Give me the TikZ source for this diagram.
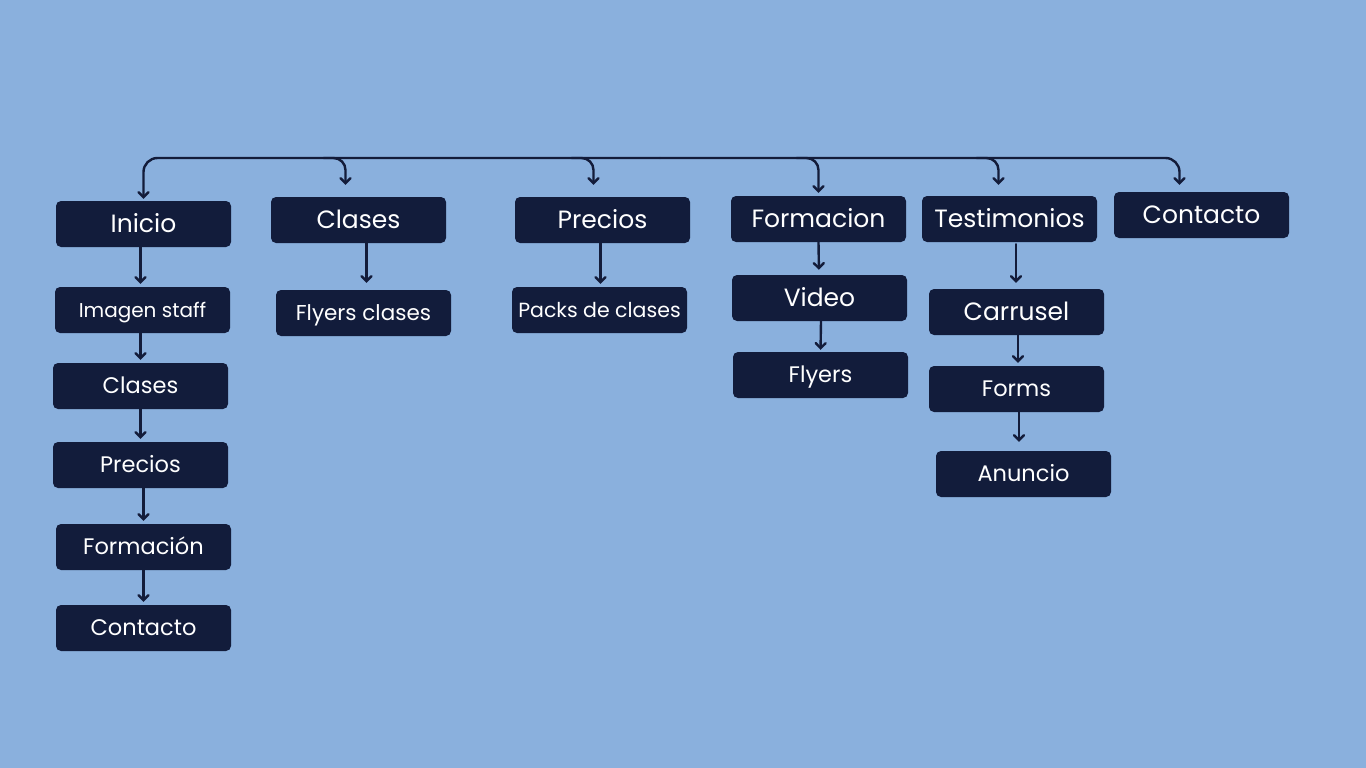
\documentclass[tikz,border=0pt]{standalone}
\usepackage{fontspec}
\setmainfont{Poppins}
\usetikzlibrary{arrows.meta,calc}
\definecolor{bgc}{HTML}{8AB0DD}
\definecolor{boxc}{HTML}{121C3B}
\definecolor{linec}{HTML}{131C3A}
\tikzset{
  box/.style={fill=boxc, rounded corners=5pt, minimum width=175pt, minimum height=46pt, text=white, inner sep=0pt, text depth=0pt},
  big/.style={font=\fontsize{25}{29}\selectfont, text height=17.5pt},
  mid/.style={font=\fontsize{22.5}{27}\selectfont, text height=15.8pt},
  sml/.style={font=\fontsize{20}{24}\selectfont, text height=14pt},
  arr/.style={draw=linec, line width=2.4pt, line cap=round, -{Straight Barb[length=5pt,width=10pt,line cap=round]}},
}
\begin{document}
\begin{tikzpicture}[x=1pt,y=-1pt]
\fill[bgc] (0,0) rectangle (1366,768);
\useasboundingbox (0,0) rectangle (1366,768);
% top level
\node[box,big] (inicio) at (143.5,224) {Inicio};
\node[box,big] (clases) at (358.5,220) {Clases};
\node[box,big] (precios) at (602.5,220) {Precios};
\node[box,big] (formacion) at (818.5,219) {Formacion};
\node[box,big] (testimonios) at (1009.5,219) {Testimonios};
\node[box,big] (contacto) at (1201.5,215) {Contacto};
% Inicio column
\node[box,sml] (imagen) at (142.5,310) {Imagen staff};
\node[box,mid] (iclases) at (140.5,386) {Clases};
\node[box,mid] (iprecios) at (140.5,465) {Precios};
\node[box,mid] (iformacion) at (143.5,547) {Formación};
\node[box,mid] (icontacto) at (143.5,628) {Contacto};
% others
\node[box,font=\fontsize{21.5}{25}\selectfont, text height=15pt] (flyersclases) at (363.5,313) {Flyers clases};
\node[box,font=\fontsize{20.5}{25}\selectfont, text height=14.4pt] (packs) at (599.5,310) {Packs de clases};
\node[box,big] (video) at (819.5,298) {Video};
\node[box,mid] (flyers) at (820.5,375) {Flyers};
\node[box,big] (carrusel) at (1016.5,312) {Carrusel};
\node[box,mid] (forms) at (1016.5,389) {Forms};
\node[box,mid] (anuncio) at (1023.5,474) {Anuncio};
% bus
\coordinate (bus) at (660,158);
\coordinate (dclases) at ([xshift=-13pt]clases.north);
\coordinate (dprecios) at ([xshift=-9pt]precios.north);
\coordinate (dtest) at ([xshift=-11pt]testimonios.north);
\coordinate (dcont) at ([xshift=-22pt]contacto.north);
\draw[arr, rounded corners=14pt, shorten >=2pt] (bus) -| (inicio.north);
\draw[arr, rounded corners=14pt, shorten >=7pt] (bus) -| (dcont);
\draw[arr, rounded corners=12pt, shorten >=12pt] (dclases |- bus) ++(-22,0) -| (dclases);
\draw[arr, rounded corners=12pt, shorten >=12pt] (dprecios |- bus) ++(-22,0) -| (dprecios);
\draw[arr, rounded corners=12pt, shorten >=3pt] (formacion.north |- bus) ++(-22,0) -| (formacion.north);
\draw[arr, rounded corners=12pt, shorten >=11pt] (dtest |- bus) ++(-22,0) -| (dtest);
% vertical arrows
\draw[arr, shorten >=3pt] ([xshift=-3pt]inicio.south) -- ([xshift=-2pt]imagen.north);
\draw[arr, shorten >=3pt] ([xshift=-2pt]imagen.south) -- (iclases.north);
\draw[arr, shorten >=3pt] (iclases.south) -- (iprecios.north);
\draw[arr, shorten >=3pt] ([xshift=3pt]iprecios.south) -- (iformacion.north);
\draw[arr, shorten >=3pt] (iformacion.south) -- (icontacto.north);
\draw[arr, shorten >=7pt] ([xshift=8pt]clases.south) -- ([xshift=3pt]flyersclases.north);
\draw[arr, shorten >=3pt] ([xshift=-2pt]precios.south) -- ([xshift=1pt]packs.north);
\draw[arr, shorten >=5pt] (formacion.south) -- ([xshift=-0.5pt]video.north);
\draw[arr, shorten >=2pt] ([xshift=1.5pt]video.south) -- (flyers.north);
\draw[arr, shorten <=2pt, shorten >=6pt] ([xshift=6.5pt]testimonios.south) -- ([xshift=-0.5pt]carrusel.north);
\draw[arr, shorten >=3pt] ([xshift=1.5pt]carrusel.south) -- ([xshift=1.5pt]forms.north);
\draw[arr, shorten >=9pt] ([xshift=2.5pt]forms.south) -- ([xshift=-4.5pt]anuncio.north);
\end{tikzpicture}
\end{document}
